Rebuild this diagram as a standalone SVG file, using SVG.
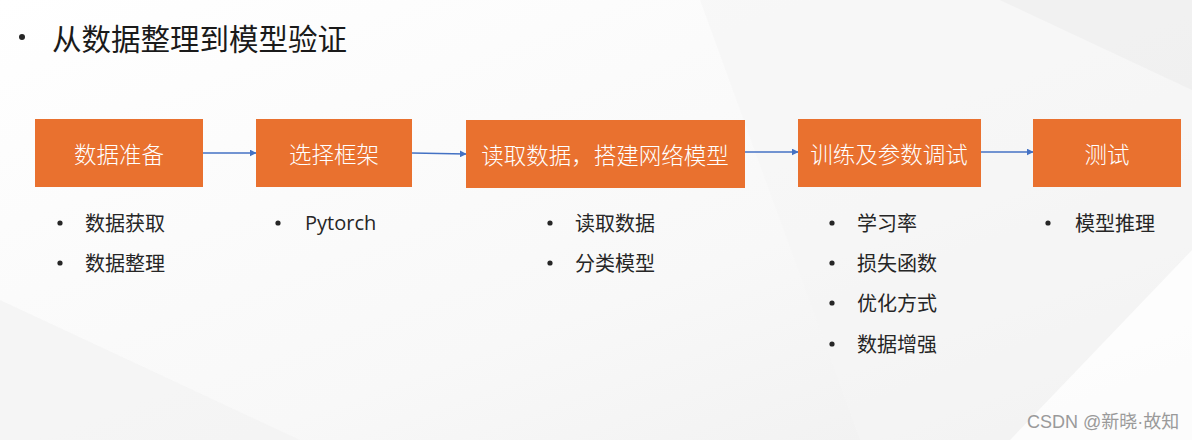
<svg xmlns="http://www.w3.org/2000/svg" width="1192" height="440" viewBox="0 0 1192 440">
<defs>
<style>
text{font-family:"Noto Sans CJK SC","Microsoft YaHei",sans-serif;}
.box{fill:#E9712F;}
.bt{fill:#ffffff;font-size:22.5px;font-weight:300;text-anchor:middle;dominant-baseline:central;}
.li{fill:#262626;font-size:20px;dominant-baseline:central;}
.dot{fill:#262626;}
.conn{stroke:#4472C4;stroke-width:1.3;fill:none;marker-end:url(#ah);}
</style>
<marker id="ah" viewBox="0 0 10 10" refX="9" refY="5" markerWidth="7" markerHeight="7" orient="auto" markerUnits="userSpaceOnUse">
<path d="M0,0 L10,5 L0,10 z" fill="#4472C4"/>
</marker>
<linearGradient id="bg" x1="0" y1="0" x2="1" y2="1">
<stop offset="0" stop-color="#ffffff"/>
<stop offset="0.6" stop-color="#f8f8f8"/>
<stop offset="1" stop-color="#efefef"/>
</linearGradient>
</defs>
<rect x="0" y="0" width="1192" height="440" fill="url(#bg)"/>
<polygon points="700,0 1192,0 1192,250 1010,440 860,440" fill="#f5f5f5" opacity="0.6"/>
<polygon points="1000,0 1192,0 1192,90" fill="#ececec" opacity="0.6"/>
<polygon points="1010,440 1192,250 1192,440" fill="#ffffff" opacity="0.8"/>
<polygon points="0,300 0,440 300,440" fill="#f2f2f2" opacity="0.6"/>

<g id="title">
<circle cx="22" cy="37" r="3" class="dot"/>
<text x="52" y="37" style="fill:#1a1a1a;font-size:29.5px;dominant-baseline:central;">从数据整理到模型验证</text>
</g>

<g id="connectors">
<line x1="203" y1="153" x2="256" y2="153" class="conn"/>
<line x1="412" y1="153" x2="466" y2="154" class="conn"/>
<line x1="745" y1="152" x2="798" y2="152" class="conn"/>
<line x1="981" y1="152" x2="1033" y2="152" class="conn"/>
</g>

<g id="node1">
<rect x="35" y="119" width="168" height="68" class="box"/>
<text x="119" y="153" class="bt">数据准备</text>
<circle cx="60" cy="223" r="2.6" class="dot"/>
<text x="85" y="222" class="li">数据获取</text>
<circle cx="60" cy="263" r="2.6" class="dot"/>
<text x="85" y="262" class="li">数据整理</text>
</g>

<g id="node2">
<rect x="256" y="119" width="156" height="68" class="box"/>
<text x="334" y="153" class="bt">选择框架</text>
<circle cx="278" cy="223" r="2.6" class="dot"/>
<text x="305" y="222" class="li" style="font-family:'Open Sans','Noto Sans',sans-serif;">Pytorch</text>
</g>

<g id="node3">
<rect x="466" y="120" width="279" height="68" class="box"/>
<text x="605" y="154" class="bt">读取数据，搭建网络模型</text>
<circle cx="550" cy="223" r="2.6" class="dot"/>
<text x="575" y="222" class="li">读取数据</text>
<circle cx="550" cy="263" r="2.6" class="dot"/>
<text x="575" y="262" class="li">分类模型</text>
</g>

<g id="node4">
<rect x="798" y="119" width="183" height="68" class="box"/>
<text x="889" y="153" class="bt">训练及参数调试</text>
<circle cx="832" cy="223" r="2.6" class="dot"/>
<text x="857" y="222" class="li">学习率</text>
<circle cx="832" cy="263" r="2.6" class="dot"/>
<text x="857" y="262" class="li">损失函数</text>
<circle cx="832" cy="303" r="2.6" class="dot"/>
<text x="857" y="302" class="li">优化方式</text>
<circle cx="832" cy="344" r="2.6" class="dot"/>
<text x="857" y="343" class="li">数据增强</text>
</g>

<g id="node5">
<rect x="1033" y="119" width="148" height="68" class="box"/>
<text x="1107" y="153" class="bt">测试</text>
<circle cx="1048" cy="223" r="2.6" class="dot"/>
<text x="1075" y="222" class="li">模型推理</text>
</g>

<text x="1027" y="422" style="fill:#9a9a9a;font-size:18px;dominant-baseline:central;font-family:'Liberation Sans','Noto Sans CJK SC',sans-serif;">CSDN @新晓·故知</text>
</svg>
